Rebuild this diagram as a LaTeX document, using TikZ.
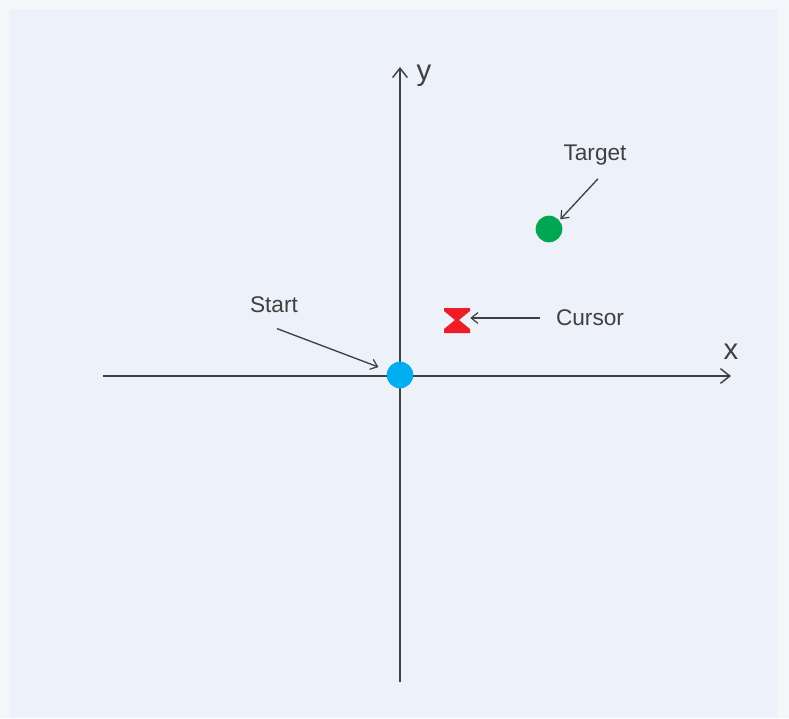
\documentclass[tikz,border=0pt]{standalone}
\usepackage{fontspec}
\setmainfont{Liberation Sans}
\usetikzlibrary{arrows.meta}
\begin{document}
\begin{tikzpicture}[x=0.75pt,y=-0.75pt,font=\fontsize{17}{20}\selectfont]
  \definecolor{outer}{HTML}{F4F6FA}
  \definecolor{panel}{HTML}{EDF1F9}
  \definecolor{ink}{HTML}{404040}
  \definecolor{startblue}{HTML}{00AEEF}
  \definecolor{targetgreen}{HTML}{00A651}
  \definecolor{cursorred}{HTML}{EE1C25}
  \tikzset{
    axis/.style={ink,line width=1.3pt,-{Straight Barb[length=7pt,width=11pt,line width=1.1pt]}},
    pointer/.style={ink,line width=1pt,-{Straight Barb[length=5pt,width=8pt,line width=0.9pt]}},
    dot/.style={circle,inner sep=0pt,minimum size=20pt},
    caption/.style={text=ink,inner sep=1pt},
    axislabel/.style={text=ink,font=\fontsize{22}{24}\selectfont,inner sep=0pt}
  }
  % backdrop
  \fill[outer] (0,0) rectangle (789,718);
  \fill[panel] (9,9) rectangle (777,718);
  % axes
  \coordinate (xFrom) at (103,376);
  \coordinate (xTo) at (731,376);
  \coordinate (yFrom) at (400,682);
  \coordinate (yTo) at (400,67);
  \draw[axis] (xFrom) -- (xTo);
  \draw[axis] (yFrom) -- (yTo);
  \node[axislabel] (xLabel) at (731,352) {x};
  \node[axislabel] (yLabel) at (424,76) {y};
  % markers
  \node[dot,fill=startblue] (startDot) at (400,375) {};
  \node[dot,fill=targetgreen] (targetDot) at (549,229) {};
  \fill[cursorred] (444,308) -- (470,308) -- (470,311) -- (459,320) -- (470,329)
    -- (470,333) -- (444,333) -- (444,329) -- (455,320) -- (444,311) -- cycle;
  \node[minimum width=19.5pt,minimum height=19.5pt,inner sep=0pt] (cursorMark) at (457,320) {};
  % captions
  \node[caption] (startLabel) at (274,305) {Start};
  \node[caption] (targetLabel) at (595,155) {Target};
  \node[caption] (cursorLabel) at (590,318) {Cursor};
  \draw[pointer] (startLabel.south) ++(3,14) -- (startDot.160) [shorten >=7pt];
  \draw[pointer,shorten >=1pt] (targetLabel.south) ++(3,12) -- (targetDot.40);
  \draw[pointer] (cursorLabel.west) ++(-14,0) -- (cursorMark.east |- cursorLabel.west);
  \path[use as bounding box] (0,0) rectangle (789,718);
\end{tikzpicture}
\end{document}
